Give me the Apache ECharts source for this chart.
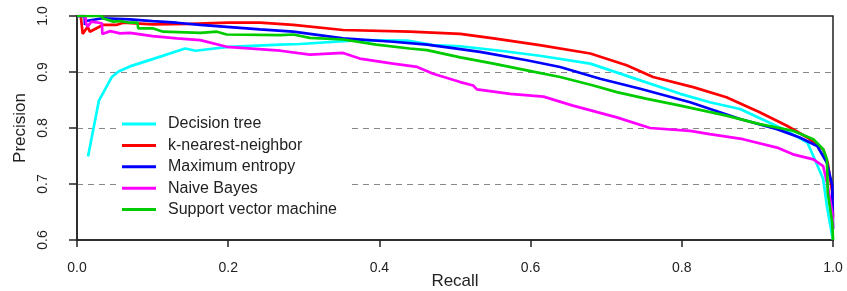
<!DOCTYPE html>
<html>
<head>
<meta charset="utf-8">
<script src="https://cdn.jsdelivr.net/npm/echarts@6/dist/echarts.min.js"></script>
<style>
  html, body { margin: 0; padding: 0; background: #fff; }
  #chart { width: 847px; height: 291px; }
</style>
</head>
<body>
<div id="chart"></div>
<script>
// precision / recall curves
const seriesNames = ['Decision tree', 'k-nearest-neighbor', 'Maximum entropy', 'Naive Bayes', 'Support vector machine']
const seriesColors = ['#00ffff', '#ff0000', '#0000ff', '#ff00ff', '#00cc00']

const recallDT = [0.0146, 0.029, 0.046, 0.055, 0.07, 0.1, 0.143, 0.157, 0.2, 0.269, 0.295, 0.374, 0.437, 0.471, 0.507, 0.56, 0.612, 0.679, 0.745, 0.798, 0.837, 0.877, 0.939, 0.966, 0.974, 0.987, 0.992, 0.999, 1.0]
const precisionDT = [0.749, 0.849, 0.891, 0.901, 0.91, 0.923, 0.942, 0.938, 0.945, 0.949, 0.95, 0.957, 0.956, 0.948, 0.946, 0.938, 0.929, 0.915, 0.885, 0.861, 0.846, 0.834, 0.795, 0.774, 0.75, 0.709, 0.66, 0.607, 0.6]

const recallKNN = [0.005, 0.0075, 0.014, 0.017, 0.034, 0.052, 0.061, 0.1, 0.15, 0.2, 0.242, 0.286, 0.352, 0.44, 0.507, 0.551, 0.612, 0.679, 0.727, 0.762, 0.815, 0.859, 0.903, 0.939, 0.966, 0.987, 0.993, 0.999, 1.0]
const precisionKNN = [1.0, 0.968, 0.981, 0.972, 0.984, 0.984, 0.988, 0.985, 0.986, 0.988, 0.988, 0.984, 0.975, 0.972, 0.968, 0.96, 0.948, 0.933, 0.912, 0.891, 0.873, 0.855, 0.828, 0.804, 0.783, 0.762, 0.738, 0.685, 0.64]

const recallME = [0.0, 0.01, 0.0105, 0.0115, 0.034, 0.07, 0.1, 0.132, 0.163, 0.242, 0.286, 0.352, 0.418, 0.463, 0.507, 0.533, 0.595, 0.639, 0.692, 0.745, 0.811, 0.877, 0.926, 0.956, 0.979, 0.992, 0.999, 1.0]
const precisionME = [1.0, 1.0, 0.984, 0.991, 0.996, 0.994, 0.991, 0.988, 0.984, 0.976, 0.972, 0.96, 0.954, 0.949, 0.941, 0.936, 0.921, 0.909, 0.888, 0.87, 0.846, 0.816, 0.798, 0.783, 0.768, 0.738, 0.697, 0.62]

const recallNB = [0.0, 0.011, 0.012, 0.014, 0.019, 0.033, 0.0335, 0.044, 0.057, 0.07, 0.1, 0.132, 0.163, 0.198, 0.269, 0.308, 0.352, 0.374, 0.418, 0.45, 0.471, 0.507, 0.524, 0.529, 0.573, 0.617, 0.656, 0.714, 0.758, 0.811, 0.837, 0.881, 0.926, 0.947, 0.974, 0.987, 0.993, 0.999, 1.0]
const precisionNB = [1.0, 1.0, 0.987, 0.981, 0.99, 0.987, 0.968, 0.973, 0.969, 0.97, 0.964, 0.96, 0.957, 0.945, 0.938, 0.931, 0.934, 0.924, 0.915, 0.909, 0.897, 0.882, 0.876, 0.869, 0.861, 0.856, 0.84, 0.819, 0.8, 0.795, 0.789, 0.78, 0.765, 0.753, 0.744, 0.732, 0.697, 0.649, 0.62]

const recallSVM = [0.0, 0.033, 0.034, 0.035, 0.048, 0.057, 0.07, 0.08, 0.081, 0.1, 0.114, 0.163, 0.185, 0.198, 0.269, 0.286, 0.308, 0.352, 0.396, 0.44, 0.463, 0.507, 0.551, 0.595, 0.639, 0.683, 0.714, 0.754, 0.798, 0.859, 0.903, 0.947, 0.974, 0.987, 0.992, 0.993, 0.999, 1.0]
const precisionSVM = [1.0, 1.0, 0.996, 0.993, 0.99, 0.991, 0.988, 0.988, 0.978, 0.978, 0.972, 0.97, 0.972, 0.967, 0.966, 0.967, 0.961, 0.958, 0.949, 0.942, 0.939, 0.926, 0.915, 0.903, 0.891, 0.876, 0.864, 0.852, 0.84, 0.822, 0.807, 0.795, 0.78, 0.762, 0.744, 0.685, 0.631, 0.6]

const xTicks = [0, 0.2, 0.4, 0.6, 0.8, 1.0]
const yTicks = [0.6, 0.7, 0.8, 0.9, 1.0]

const curves = [
  [recallDT, precisionDT],
  [recallKNN, precisionKNN],
  [recallME, precisionME],
  [recallNB, precisionNB],
  [recallSVM, precisionSVM]
]

const fontFamily = '"Liberation Sans", Arial, Helvetica, sans-serif'
const textColor = '#222'

const chart = echarts.init(document.getElementById('chart'))
chart.setOption({
  animation: false,
  textStyle: { fontFamily: fontFamily, color: textColor },
  grid: {
    left: 77,
    right: 14,
    top: 16,
    bottom: 51,
    outerBoundsMode: 'none',
    containLabel: false,
    show: true,
    borderColor: '#222',
    borderWidth: 1.5,
    backgroundColor: 'transparent'
  },
  legend: {
    orient: 'vertical',
    left: 118,
    top: 102,
    padding: [14, 10, 14, 4],
    backgroundColor: '#fff',
    itemGap: 5.4,
    itemWidth: 34,
    itemHeight: 3,
    icon: 'rect',
    data: seriesNames,
    textStyle: {
      fontFamily: fontFamily,
      fontSize: 16,
      lineHeight: 16,
      color: textColor,
      padding: [0, 0, 0, 7]
    }
  },
  xAxis: {
    type: 'value',
    min: xTicks[0],
    max: xTicks[xTicks.length - 1],
    interval: 0.2,
    name: 'Recall',
    nameLocation: 'middle',
    nameGap: 33,
    nameMoveOverlap: false,
    nameTextStyle: { fontFamily: fontFamily, fontSize: 17, color: textColor },
    axisLine: { show: true, onZero: false, lineStyle: { color: '#222', width: 1.5 } },
    axisTick: { show: true, length: 7, lineStyle: { color: '#222', width: 1.5 } },
    axisLabel: {
      fontFamily: fontFamily,
      fontSize: 14,
      color: textColor,
      margin: 21,
      formatter: v => v.toFixed(1)
    },
    splitLine: { show: false }
  },
  yAxis: {
    type: 'value',
    min: yTicks[0],
    max: yTicks[yTicks.length - 1],
    interval: 0.1,
    name: 'Precision',
    nameLocation: 'middle',
    nameRotate: 90,
    nameGap: 48,
    nameMoveOverlap: false,
    nameTextStyle: { fontFamily: fontFamily, fontSize: 17, color: textColor },
    axisLine: { show: true, onZero: false, lineStyle: { color: '#222', width: 1.5 } },
    axisTick: { show: true, length: 8, lineStyle: { color: '#222', width: 1.5 } },
    axisLabel: {
      fontFamily: fontFamily,
      fontSize: 14,
      color: textColor,
      rotate: 90,
      margin: 27,
      align: 'center',
      verticalAlign: 'bottom',
      formatter: v => v.toFixed(1)
    },
    splitLine: {
      show: true,
      showMinLine: false,
      showMaxLine: false,
      lineStyle: { color: '#888', width: 1, type: [6, 5] }
    }
  },
  series: curves.map((c, i) => ({
    name: seriesNames[i],
    type: 'line',
    symbol: 'none',
    color: seriesColors[i],
    lineStyle: { width: 2.7, color: seriesColors[i] },
    data: c[0].map((r, j) => [r, c[1][j]])
  }))
})
</script>
</body>
</html>
